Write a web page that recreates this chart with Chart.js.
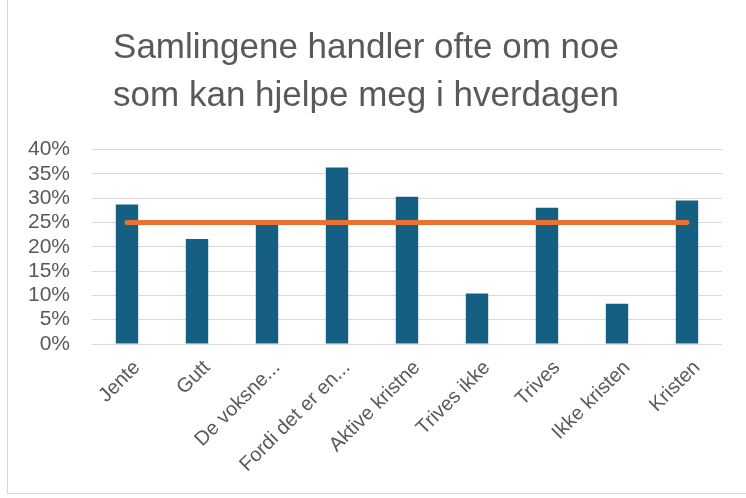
<!DOCTYPE html>
<html>
<head>
<meta charset="utf-8">
<script src="https://cdn.jsdelivr.net/npm/chart.js@4/dist/chart.umd.min.js"></script>
<style>
  html, body { margin: 0; padding: 0; background: #fff; }
  #wrap { position: absolute; left: 7px; top: -1px; width: 740px; height: 493px; border: 1px solid #d9d9d9; }
  canvas { position: absolute; left: -8px; top: 1px; }
</style>
</head>
<body>
<div id="wrap"><canvas id="chart" width="746" height="498"></canvas></div>
<script>
const categories = ['Jente', 'Gutt', 'De voksne...', 'Fordi det er en...', 'Aktive kristne', 'Trives ikke', 'Trives', 'Ikke kristen', 'Kristen'];
const barValues = [28.7, 21.6, 24.5, 36.3, 30.3, 10.4, 28.0, 8.3, 29.5];
const lineValues = [25, 25, 25, 25, 25, 25, 25, 25, 25];
const titleLines = ['Samlingene handler ofte om noe', 'som kan hjelpe meg i hverdagen'];

const grey = '#595959';
const font = 'Liberation Sans';

new Chart(document.getElementById('chart'), {
    type: 'bar',
    data: {
        labels: categories,
        datasets: [{
            type: 'line',
            data: lineValues,
            borderColor: '#E97132',
            borderWidth: 5,
            borderCapStyle: 'round',
            pointRadius: 0,
            order: 1
        }, {
            data: barValues,
            backgroundColor: '#156082',
            barPercentage: 0.32,
            categoryPercentage: 1,
            order: 2
        }]
    },
    options: {
        responsive: false,
        animation: false,
        layout: { padding: { left: 10, right: 24, top: 0, bottom: 4 } },
        plugins: {
            legend: { display: false },
            tooltip: { enabled: false },
            title: {
                display: true,
                text: titleLines,
                color: grey,
                font: { family: font, size: 35, weight: 'normal', lineHeight: 1.35 },
                padding: { top: 24, bottom: 30 }
            }
        },
        scales: {
            x: {
                afterFit: axis => { axis.height = 151; },
                grid: { display: false },
                border: { display: false },
                ticks: {
                    color: grey,
                    font: { family: font, size: 20 },
                    maxRotation: 45,
                    minRotation: 45,
                    autoSkip: false,
                    labelOffset: 10,
                    padding: 4
                }
            },
            y: {
                min: 0,
                max: 40,
                afterFit: axis => { axis.width = 82; },
                grid: { color: '#d9d9d9', lineWidth: 1, drawTicks: false },
                border: { display: false },
                ticks: {
                    stepSize: 5,
                    autoSkip: false,
                    color: grey,
                    padding: 22,
                    font: { family: font, size: 21 },
                    callback: v => v + '%'
                }
            }
        }
    }
});
</script>
</body>
</html>
